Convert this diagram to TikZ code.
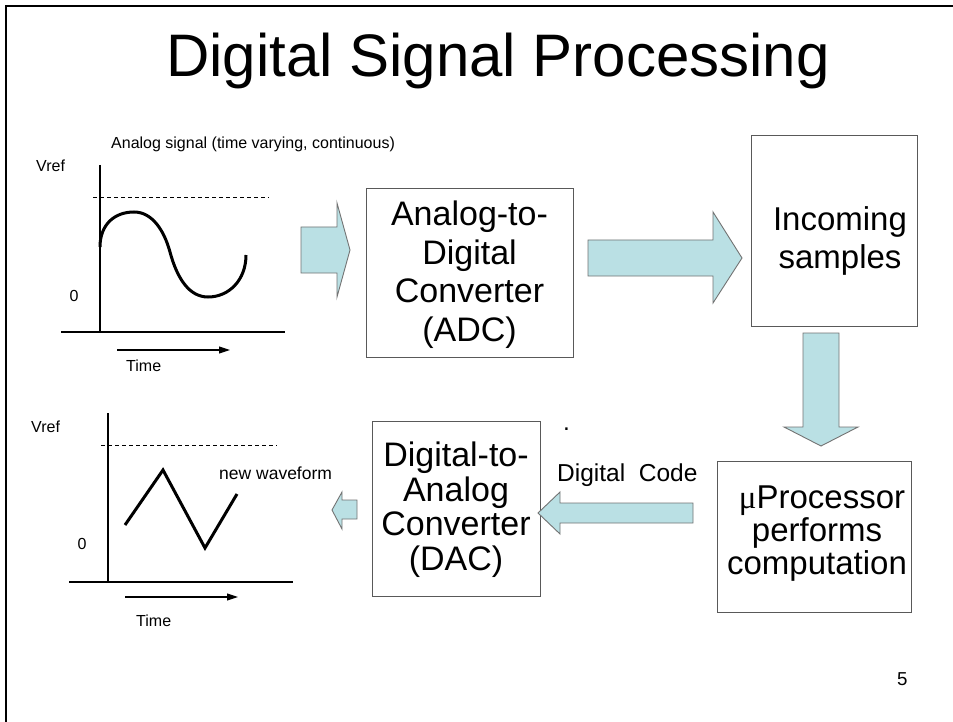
\documentclass[tikz,border=0pt]{standalone}
\usepackage{fontspec}
\setmainfont{Liberation Sans}
\newfontfamily\mufont{Liberation Serif}
\usetikzlibrary{arrows.meta}
\definecolor{arrowfill}{RGB}{186,224,228}
\begin{document}
\begin{tikzpicture}[x=1pt,y=-1pt,
  box/.style={draw=black!65, line width=1pt, inner sep=0pt},
  blockarrow/.style={fill=arrowfill, draw=black!55, line width=0.9pt, line join=miter},
  axis/.style={line width=2.8pt},
  wave/.style={line width=3pt, line join=miter},
  refline/.style={dash pattern=on 4pt off 3pt, line width=0.9pt},
  timearrow/.style={line width=1.1pt, -{Triangle[length=11pt,width=7pt]}},
  small/.style={font=\fontsize{16}{19}\selectfont, inner sep=0pt},
  big/.style={font=\fontsize{34}{38.5}\selectfont, align=center, inner sep=0pt},
]
\useasboundingbox (0,0) rectangle (953,722);
\fill[white] (0,0) rectangle (953,722);
\draw[line width=2.3pt] (6,722) -- (6,6) -- (953,6);

% title
\node[anchor=base, font=\fontsize{60}{70}\selectfont, inner sep=0pt] (title) at (498,77) {Digital Signal Processing};

% top chart
\node[small, anchor=base west] (atitle) at (111,149) {Analog signal (time varying, continuous)};
\node[small, anchor=base west] (vref1) at (36,172) {Vref};
\node[small, anchor=base] (zero1) at (74,301) {0};
\node[small, anchor=base west] (time1) at (126,371) {Time};
\coordinate (ya1) at (100,165);
\coordinate (o1) at (100,332);
\coordinate (xl1) at (61,332);
\coordinate (xr1) at (285,332);
\draw[axis] (ya1) -- (o1);
\draw[axis] (xl1) -- (xr1);
\draw[refline] (93,197) -- (269,197);
\draw[wave] (100,247) .. controls (100,225) and (114,212) .. (134,212)
  .. controls (152,212) and (164,230) .. (170,252)
  .. controls (177,278) and (189,297) .. (208,297)
  .. controls (229,297) and (246,280) .. (246,255);
\coordinate (ta1) at (117,350);
\coordinate (tb1) at (230,350);
\draw[timearrow] (ta1) -- (tb1);

% bottom chart
\node[small, anchor=base west] (vref2) at (31,432) {Vref};
\node[small, anchor=base] (zero2) at (82,549) {0};
\node[small, anchor=base west] (time2) at (136,626) {Time};
\node[anchor=base west, font=\fontsize{17.5}{20}\selectfont, inner sep=0pt] (neww) at (219,479) {new waveform};
\coordinate (ya2) at (108,413);
\coordinate (o2) at (108,582);
\coordinate (xl2) at (69,582);
\coordinate (xr2) at (293,582);
\draw[axis] (ya2) -- (o2);
\draw[axis] (xl2) -- (xr2);
\draw[refline] (101,445) -- (277,445);
\draw[wave] (125,525) -- (163,470) -- (205,548) -- (237,494);
\coordinate (ta2) at (125,597);
\coordinate (tb2) at (238,597);
\draw[timearrow] (ta2) -- (tb2);

% boxes
\node[box, minimum width=207pt, minimum height=168pt] (adc) at (469.5,273) {};
\node[big] (adct) at (469.5,274.5) {Analog-to-\\Digital\\Converter\\(ADC)};
\node[box, minimum width=166pt, minimum height=190pt] (inc) at (834,231) {};
\node[big, font=\fontsize{33}{38}\selectfont] (inct) at (840,240.5) {Incoming\\samples};
\node[box, minimum width=194pt, minimum height=151pt] (mup) at (814,536.5) {};
\node[big, font=\fontsize{33}{33}\selectfont] (mupt) at (817,533.6) {\hspace*{10pt}{\mufont μ}Processor\\performs\\computation};
\node[box, minimum width=168pt, minimum height=175pt] (dac) at (456,508.5) {};
\node[big, font=\fontsize{34}{34.7}\selectfont] (dact) at (456,509.6) {Digital-to-\\Analog\\Converter\\(DAC)};

% digital code label
\node[anchor=base west, font=\fontsize{24.5}{28}\selectfont, inner sep=0pt] (dot) at (563,430) {.};
\node[anchor=base west, font=\fontsize{24.5}{28}\selectfont, inner sep=0pt] (dcode) at (557,481) {Digital\ \ Code};

% block arrows
\draw[blockarrow] (301,227) -- (337,227) -- (337,203) -- (350,250) -- (337,297) -- (337,273) -- (301,273) -- cycle;
\draw[blockarrow] (588,240) -- (713,240) -- (713,212) -- (742,258) -- (713,303) -- (713,276) -- (588,276) -- cycle;
\draw[blockarrow] (803,333) -- (839,333) -- (839,427) -- (858,427) -- (821,446) -- (784,427) -- (803,427) -- cycle;
\draw[blockarrow] (693,503) -- (560,503) -- (560,492) -- (538,513) -- (560,534) -- (560,523) -- (693,523) -- cycle;
\draw[blockarrow] (357,500) -- (342,500) -- (342,492) -- (332,510) -- (342,529) -- (342,519) -- (357,519) -- cycle;

% page number
\node[anchor=base west, font=\fontsize{18.7}{22}\selectfont, inner sep=0pt] (pnum) at (897,685) {5};
\end{tikzpicture}
\end{document}
